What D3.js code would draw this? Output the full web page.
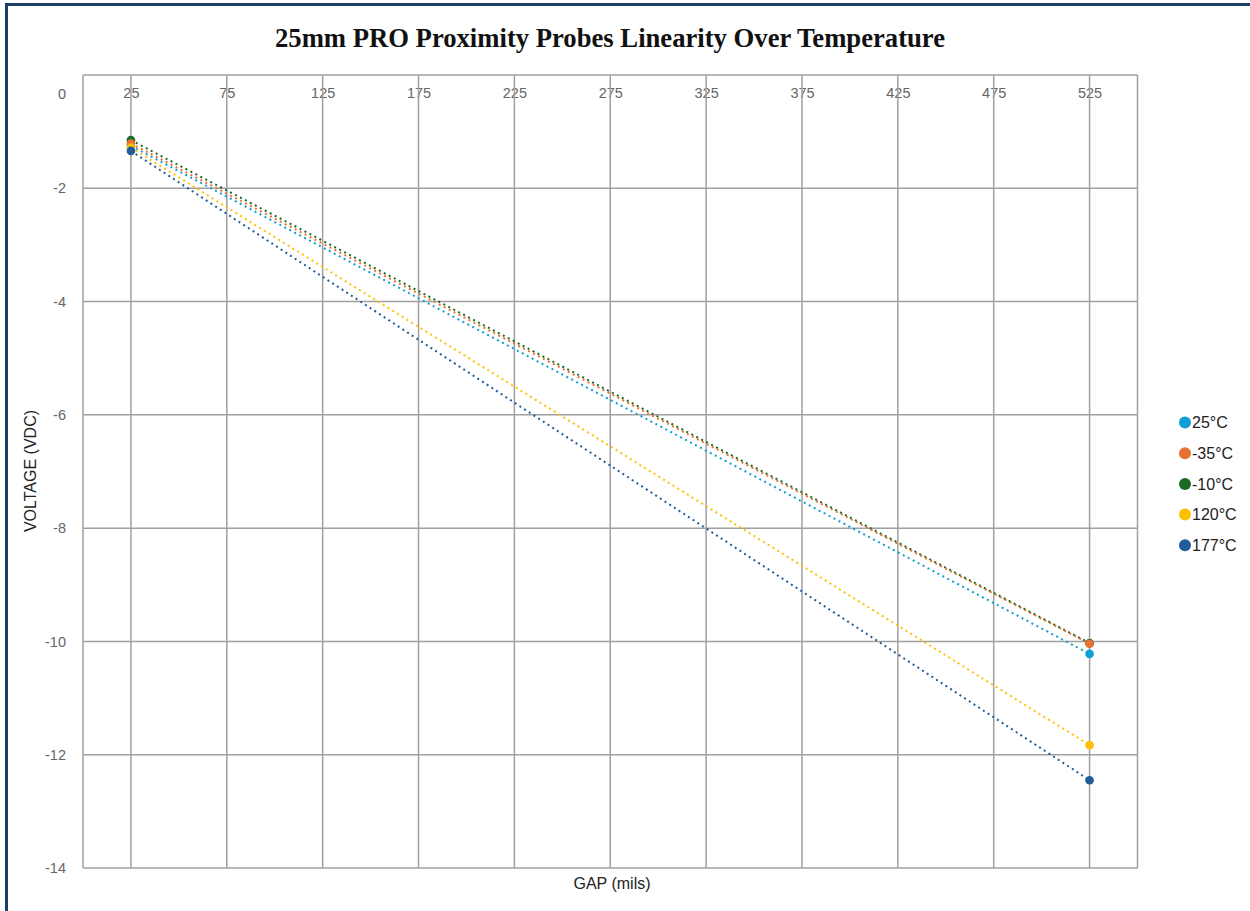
<!DOCTYPE html>
<html>
<head>
<meta charset="utf-8">
<script src="https://cdn.jsdelivr.net/npm/d3@7"></script>
<style>
  body { margin: 0; background: #fff; }
  svg { display: block; font-family: "Liberation Sans", Arial, sans-serif; }
</style>
</head>
<body>
<div id="chart"></div>
<script>
// gap positions (mils) and voltage readings per temperature
const gaps = [25, 525];
const series = ["25°C", "-35°C", "-10°C", "120°C", "177°C"];
const colors = ["#0f9ed5", "#e97132", "#196b24", "#ffc000", "#1f5c99"];
const v25 = [-1.25, -10.22];
const vMinus35 = [-1.21, -10.04];
const vMinus10 = [-1.15, -10.03];
const v120 = [-1.28, -11.83];
const v177 = [-1.34, -12.45];
const xTicks = [25, 75, 125, 175, 225, 275, 325, 375, 425, 475, 525];
const yTicks = [0, -2, -4, -6, -8, -10, -12, -14];

const values = [v25, vMinus35, vMinus10, v120, v177];
const data = series.map((name, i) => ({
  name: name,
  color: colors[i],
  points: gaps.map((g, j) => ({gap: g, v: values[i][j]}))
}));

const W = 1250, H = 911;
const svg = d3.select("#chart").append("svg")
    .attr("width", W)
    .attr("height", H);

// frame
svg.append("rect")
    .attr("x", 6.5).attr("y", 4.5)
    .attr("width", W + 10).attr("height", H + 10)
    .attr("fill", "none")
    .attr("stroke", "#1b3d66")
    .attr("stroke-width", 3);

const x = d3.scaleLinear().domain([0, 550]).range([83, 1137.5]);
const y = d3.scaleLinear().domain([0, -14]).range([75, 868]);

svg.append("text")
    .attr("x", 610).attr("y", 47)
    .attr("text-anchor", "middle")
    .attr("textLength", 670)
    .attr("lengthAdjust", "spacingAndGlyphs")
    .style("font-family", "'Liberation Serif', 'Times New Roman', serif")
    .style("font-weight", "bold")
    .style("font-size", "27px")
    .attr("fill", "#111")
    .text("25mm PRO Proximity Probes Linearity Over Temperature");

// tick labels (under the grid)
const yAxis = svg.append("g")
    .attr("transform", "translate(72,0)")
    .call(d3.axisLeft(y).tickValues(yTicks).tickSize(0).tickPadding(6).tickFormat(d => String(d)));
yAxis.select(".domain").remove();
yAxis.selectAll("text")
    .style("font-size", "14.5px")
    .style("font-family", "'Liberation Sans', Arial, sans-serif")
    .attr("fill", "#666")
    .attr("dy", d => d === 0 ? "1.65em" : "0.32em");

const xAxis = svg.append("g")
    .attr("transform", `translate(0,${y(0)})`)
    .call(d3.axisBottom(x).tickValues(xTicks).tickSize(0).tickPadding(13));
xAxis.select(".domain").remove();
xAxis.selectAll("text")
    .style("font-size", "14.5px")
    .style("font-family", "'Liberation Sans', Arial, sans-serif")
    .attr("fill", "#666");

// grid
const grid = svg.append("g")
    .attr("stroke", "#a0a0a0")
    .attr("stroke-width", 1.5);
grid.selectAll(".h")
  .data(yTicks)
  .enter().append("line")
    .attr("x1", x(0)).attr("x2", x(550))
    .attr("y1", d => y(d)).attr("y2", d => y(d));
grid.selectAll(".v")
  .data([0].concat(xTicks, [550]))
  .enter().append("line")
    .attr("x1", d => x(d)).attr("x2", d => x(d))
    .attr("y1", y(0)).attr("y2", y(-14));

// series, drawn with -10°C under -35°C
const drawOrder = [data[0], data[2], data[1], data[3], data[4]];
const line = d3.line().x(d => x(d.gap)).y(d => y(d.v));

svg.selectAll(".series")
  .data(drawOrder)
  .enter().append("path")
    .attr("d", d => line(d.points))
    .attr("fill", "none")
    .attr("stroke", d => d.color)
    .attr("stroke-width", 2)
    .attr("stroke-dasharray", "2,3.6");

drawOrder.forEach(s => {
  svg.selectAll(null)
    .data(s.points)
    .enter().append("circle")
      .attr("cx", d => x(d.gap))
      .attr("cy", d => y(d.v))
      .attr("r", 4.3)
      .attr("fill", s.color);
});

// axis titles
svg.append("text")
    .attr("transform", "translate(36,471) rotate(-90)")
    .attr("text-anchor", "middle")
    .style("font-size", "16px")
    .attr("fill", "#222")
    .text("VOLTAGE (VDC)");

svg.append("text")
    .attr("x", 612).attr("y", 889)
    .attr("text-anchor", "middle")
    .style("font-size", "16px")
    .attr("fill", "#222")
    .text("GAP (mils)");

// legend
const legend = svg.append("g").attr("transform", "translate(1185,422.5)");
const item = legend.selectAll("g")
  .data(data)
  .enter().append("g")
    .attr("transform", (d, i) => `translate(0,${i * 30.7})`);
item.append("circle")
    .attr("r", 6)
    .attr("fill", d => d.color);
item.append("text")
    .attr("x", 7)
    .attr("dy", "0.36em")
    .style("font-size", "16px")
    .attr("fill", "#222")
    .text(d => d.name);
</script>
</body>
</html>
